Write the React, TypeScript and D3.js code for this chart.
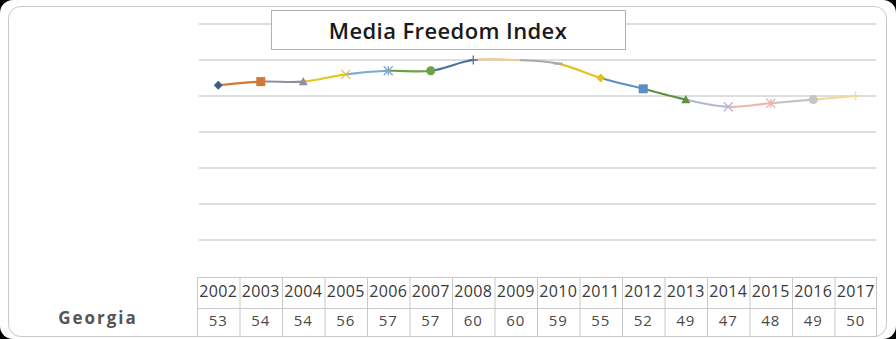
import React from "react";
import * as d3 from "d3";

const years = ["2002","2003","2004","2005","2006","2007","2008","2009","2010","2011","2012","2013","2014","2015","2016","2017"];
const values = [53,54,54,56,57,57,60,60,59,55,52,49,47,48,49,50];
const pointColors = ["#3A5F8F","#D07A35","#8F8FA3","#E6C424","#7FA6D6","#6AA343","#4A6FA6","#F2C890","#A8A8AE","#E2C222","#5A8EC4","#5E9240","#B4B4D4","#F0B4AC","#C4C4C8","#F5D89A"];
const markerShapes = ["diamond","square","triangle","x","star","circle","plus","dash","dash","diamond","square","triangle","x","star","circle","plus"];
const gridValues = [10,20,30,40,50,60,70];
const title = "Media Freedom Index";
const rowLabel = "Georgia";

const W = 896, H = 339;

function marker(shape: string, cx: number, cy: number, color: string, key: number) {
  const s = 4.5;
  switch (shape) {
    case "diamond":
      return <path key={key} d={`M${cx},${cy-s} L${cx+s},${cy} L${cx},${cy+s} L${cx-s},${cy} Z`} fill={color} />;
    case "square":
      return <rect key={key} x={cx-s} y={cy-s} width={2*s} height={2*s} fill={color} />;
    case "triangle":
      return <path key={key} d={`M${cx},${cy-s} L${cx+s},${cy+s*0.8} L${cx-s},${cy+s*0.8} Z`} fill={color} />;
    case "circle":
      return <circle key={key} cx={cx} cy={cy} r={s} fill={color} />;
    case "x":
      return <path key={key} d={`M${cx-s},${cy-s} L${cx+s},${cy+s} M${cx-s},${cy+s} L${cx+s},${cy-s}`} stroke={color} strokeWidth={1.3} fill="none" />;
    case "star":
      return <path key={key} d={`M${cx-s},${cy-s} L${cx+s},${cy+s} M${cx-s},${cy+s} L${cx+s},${cy-s} M${cx},${cy-s} L${cx},${cy+s}`} stroke={color} strokeWidth={1.3} fill="none" />;
    case "plus":
      return <path key={key} d={`M${cx-s},${cy} L${cx+s},${cy} M${cx},${cy-s} L${cx},${cy+s}`} stroke={color} strokeWidth={1.3} fill="none" />;
    case "dash":
      return <path key={key} d={`M${cx-s},${cy} L${cx+s},${cy}`} stroke={color} strokeWidth={2} fill="none" />;
    default:
      return null;
  }
}

export default function App() {
  const x = d3.scaleBand<string>().domain(years).range([197, 877]).padding(0);
  const bw = x.bandwidth();
  const cx = (yr: string) => (x(yr) as number) + bw / 2;
  const y = d3.scaleLinear().domain([0, 70]).range([276, 24]);

  const pts: [number, number][] = years.map((yr, i) => [cx(yr), y(values[i])]);

  const rec: any[] = [];
  const ctx: any = {
    moveTo(a: number, b: number) { rec.push(["M", a, b]); },
    lineTo(a: number, b: number) { rec.push(["L", a, b]); },
    bezierCurveTo(a: number, b: number, c: number, d: number, e: number, f: number) { rec.push(["C", a, b, c, d, e, f]); },
    closePath() {},
  };
  d3.line<[number, number]>().x(d => d[0]).y(d => d[1]).curve(d3.curveCatmullRom.alpha(0.5)).context(ctx)(pts);
  const segs: string[] = [];
  let last: [number, number] = pts[0];
  rec.forEach(r => {
    if (r[0] === "M") { last = [r[1], r[2]]; return; }
    if (r[0] === "C") {
      segs.push(`M${last[0]},${last[1]} C${r[1]},${r[2]} ${r[3]},${r[4]} ${r[5]},${r[6]}`);
      last = [r[5], r[6]];
    } else if (r[0] === "L") {
      segs.push(`M${last[0]},${last[1]} L${r[1]},${r[2]}`);
      last = [r[1], r[2]];
    }
  });

  const font = "'Open Sans', 'DejaVu Sans', sans-serif";
  const tableTop = 277, tableMid = 308, tableBot = 336;

  return (
    <svg width={W} height={H} style={{ position: "absolute", left: 0, top: 0, display: "block" }}>
      <rect x={0} y={0} width={W} height={H} fill="#000" />
      <rect x={0} y={0} width={W} height={H} rx={13} fill="#fff" />
      <rect x={8.5} y={6.5} width={878} height={330} rx={12} fill="none" stroke="#c8c8c8" strokeWidth={1} />

      {gridValues.map(v => (
        <line key={v} x1={199} x2={876} y1={y(v)} y2={y(v)} stroke="#d2d2d2" strokeWidth={1.5} />
      ))}

      <rect x={271.5} y={10.5} width={354} height={39} fill="#fff" stroke="#b0b0b0" strokeWidth={1} />
      <text x={448} y={38.5} textAnchor="middle" fontFamily={font} fontSize={22} fontWeight={600} fill="#1a1a1a" letterSpacing={0.4}>{title}</text>

      {segs.map((d, i) => (
        <path key={i} d={d} fill="none" stroke={pointColors[i + 1]} strokeWidth={2.1} strokeLinecap="round" />
      ))}
      {pts.map((p, i) => marker(markerShapes[i], p[0], p[1], pointColors[i], i))}

      <g stroke="#c8c8c8" strokeWidth={1} fill="none">
        <line x1={197} x2={877} y1={tableTop + 0.5} y2={tableTop + 0.5} />
        <line x1={197} x2={877} y1={tableMid + 0.5} y2={tableMid + 0.5} />
        <line x1={197} x2={877} y1={tableBot + 0.5} y2={tableBot + 0.5} />
        {years.map(yr => (
          <line key={yr} x1={(x(yr) as number) + 0.5} x2={(x(yr) as number) + 0.5} y1={tableTop} y2={tableBot} />
        ))}
        <line x1={876.5} x2={876.5} y1={tableTop} y2={tableBot} />
      </g>
      {years.map(yr => (
        <text key={yr} x={cx(yr)} y={297} textAnchor="middle" fontFamily={font} fontSize={16} fill="#3a3a3a" letterSpacing={0.4}>{yr}</text>
      ))}
      {years.map((yr, i) => (
        <text key={yr} x={cx(yr)} y={326} textAnchor="middle" fontFamily={font} fontSize={15} fill="#4a4a4a" letterSpacing={1}>{values[i]}</text>
      ))}
      <text x={98} y={324} textAnchor="middle" fontFamily={font} fontSize={17} fontWeight={700} fill="#555" letterSpacing={2}>{rowLabel}</text>
    </svg>
  );
}
